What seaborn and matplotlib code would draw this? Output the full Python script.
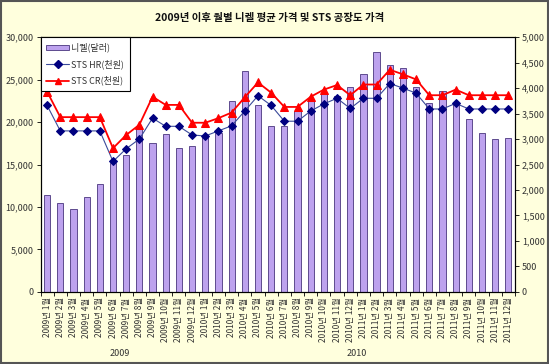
import numpy as np
import pandas as pd
import matplotlib
matplotlib.use('Agg')
import matplotlib.pyplot as plt
import seaborn as sns
from matplotlib.patches import Rectangle, Patch
from matplotlib.lines import Line2D
from matplotlib.ticker import FuncFormatter, FixedLocator
import matplotlib.transforms as mtrans

# ---------------- data ----------------
years = [2009, 2010, 2011]
month_labels = [f"{y}년 {m}월" for y in years for m in range(1, 13)]
group_labels = ["2009", "2010"]

nickel = [11440, 10480, 9790, 11210, 12680, 15180, 16070, 19430, 17580, 18580, 17000, 17230,
          18270, 18770, 22510, 25990, 22050, 19500, 19500, 21360, 22630, 23480, 23010, 24170,
          25670, 28300, 26750, 26330, 24130, 22240, 23670, 22120, 20320, 18730, 18000, 18120]

sts_hr = [3660, 3160, 3160, 3160, 3160, 2560, 2810, 3000, 3410, 3250, 3250, 3080,
          3060, 3160, 3260, 3550, 3850, 3660, 3350, 3350, 3550, 3690, 3800, 3600,
          3800, 3800, 4090, 4000, 3900, 3590, 3590, 3700, 3590, 3590, 3590, 3590]

sts_cr = [3930, 3430, 3430, 3430, 3430, 2820, 3080, 3280, 3830, 3670, 3670, 3320,
          3320, 3410, 3520, 3820, 4110, 3910, 3630, 3630, 3830, 3970, 4060, 3860,
          4070, 4070, 4360, 4270, 4170, 3860, 3860, 3970, 3860, 3860, 3860, 3860]

title = "2009년 이후 월별 니켈 평균 가격 및 STS 공장도 가격"
label_ni = "니켈(달러)"
label_hr = "STS HR(천원)"
label_cr = "STS CR(천원)"

# ---------------- style ----------------
sns.set_style('white')
plt.rcParams['font.family'] = ['Noto Sans CJK KR', 'DejaVu Sans']

bar_face = '#BDA2EE'
bar_edge = '#5E4A8E'
hr_line = '#3A4A9A'
hr_mark = '#000080'
cr_col = '#FF0000'
txt_col = '#333333'

df = pd.DataFrame({'month': month_labels, 'nickel': nickel,
                   'hr': sts_hr, 'cr': sts_cr})
df['pos'] = np.arange(len(df))

fig = plt.figure(figsize=(5.49, 3.64), dpi=100, facecolor='#FFFFDD')
ax = fig.add_axes([0.0738, 0.198, 0.8642, 0.700])
ax.set_facecolor('white')

sns.barplot(data=df, x='month', y='nickel', color=bar_face, saturation=1,
            width=0.47, edgecolor=bar_edge, linewidth=0.7, ax=ax, zorder=2)

ax.set_xlim(-0.5, len(df) - 0.5)
ax.set_ylim(0, 30000)
ax.set_yticks(np.arange(0, 30001, 5000))
ax.yaxis.set_major_formatter(FuncFormatter(lambda v, p: f"{int(v):,}"))
ax.set_xlabel('')
ax.set_ylabel('')
ax.set_xticks(df['pos'])
ax.set_xticklabels(month_labels, rotation=90, fontsize=6, color=txt_col)
ax.xaxis.set_minor_locator(FixedLocator(np.arange(-0.5, len(df), 1.0)))
ax.tick_params(axis='x', which='major', length=0, pad=4)
ax.tick_params(axis='x', which='minor', bottom=True, length=3, width=0.6, color='black')
ax.tick_params(axis='y', left=True, length=3, width=0.6, labelsize=6.5,
               colors='black', labelcolor=txt_col, pad=2)

ax2 = ax.twinx()
sns.lineplot(data=df, x='pos', y='hr', ax=ax2, color=hr_line, linewidth=0.8,
             marker='D', markersize=4.4, markerfacecolor=hr_mark,
             markeredgecolor=hr_mark, zorder=3)
sns.lineplot(data=df, x='pos', y='cr', ax=ax2, color=cr_col, linewidth=1.3,
             marker='^', markersize=5.4, markerfacecolor=cr_col,
             markeredgecolor=cr_col, zorder=4)
ax2.set_ylim(0, 5000)
ax2.set_yticks(np.arange(0, 5001, 500))
ax2.yaxis.set_major_formatter(FuncFormatter(lambda v, p: f"{int(v):,}"))
ax2.set_ylabel('')
ax2.set_xlabel('')
ax2.set_xlim(-0.5, len(df) - 0.5)
ax2.tick_params(axis='y', right=True, length=3, width=0.6, labelsize=6.5,
                colors='black', labelcolor=txt_col, pad=2)

for a in (ax, ax2):
    for s in a.spines.values():
        s.set_color('black')
        s.set_linewidth(0.8)

# group labels under the month labels
trans = mtrans.blended_transform_factory(ax.transData, fig.transFigure)
ax.text(5.5, 0.030, group_labels[0], transform=trans, ha='center', va='center',
        fontsize=6.5, color=txt_col)
ax.text(23.5, 0.030, group_labels[1], transform=trans, ha='center', va='center',
        fontsize=6.5, color=txt_col)

# legend
handles = [Patch(facecolor=bar_face, edgecolor=bar_edge, linewidth=0.7, label=label_ni),
           Line2D([], [], color=hr_line, lw=0.8, marker='D', markersize=4,
                  markerfacecolor=hr_mark, markeredgecolor=hr_mark, label=label_hr),
           Line2D([], [], color=cr_col, lw=1.3, marker='^', markersize=5,
                  markerfacecolor=cr_col, markeredgecolor=cr_col, label=label_cr)]
leg = ax2.legend(handles=handles, loc='upper left', bbox_to_anchor=(0, 1),
                 borderaxespad=0, frameon=True, fancybox=False, framealpha=1,
                 edgecolor='black', fontsize=6.5, handlelength=2.6,
                 handleheight=0.45, labelspacing=0.75, borderpad=0.6,
                 handletextpad=0.2)
leg.get_frame().set_linewidth(0.8)
for t in leg.get_texts():
    t.set_color(txt_col)

fig.text(0.492, 1 - 18 / 364, title, ha='center', va='center', fontsize=7.5,
         fontweight='bold', color='#111111')

fig.patches.append(Rectangle((0.001, 0.002), 0.997, 0.996, transform=fig.transFigure,
                             fill=False, edgecolor='#555555', linewidth=1.5))

fig.savefig('out.png', dpi=100, facecolor=fig.get_facecolor())
